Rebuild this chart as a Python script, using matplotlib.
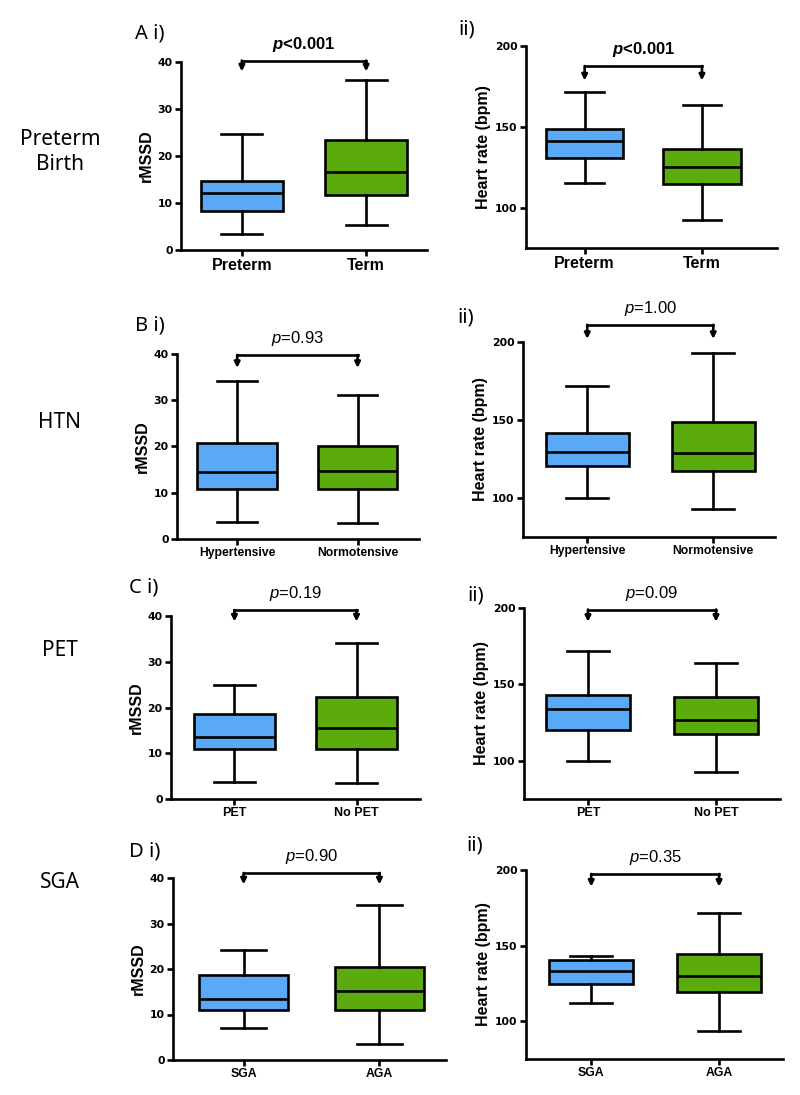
import numpy as np
import matplotlib
matplotlib.use("Agg")
import matplotlib.pyplot as plt

plt.rcParams.update({"font.family": ["Liberation Sans", "DejaVu Sans"],
                     "mathtext.fontset": "custom",
                     "mathtext.it": "Liberation Sans:italic",
                     "mathtext.bf": "Liberation Sans:italic:bold",
                     "axes.linewidth": 1.9})

# ---- data: (whislo, q1, median, q3, whishi) per group -------------------
ROWS = ["Preterm\nBirth", "HTN", "PET", "SGA"]
PANELS = [("A i)", "ii)"), ("B i)", "ii)"), ("C i)", "ii)"), ("D i)", "ii)")]
CATS_A = ["Preterm", "Term"]
CATS_B = ["Hypertensive", "Normotensive"]
CATS_C = ["PET", "No PET"]
CATS_D = ["SGA", "AGA"]

RMSSD_A = [[3.3, 8.3, 12.2, 14.7, 24.7], [5.3, 11.6, 16.6, 23.3, 36.2]]
HR_A = [[115.5, 131.0, 141.4, 148.7, 171.4], [92.3, 114.9, 125.3, 136.2, 163.6]]
RMSSD_B = [[3.7, 10.8, 14.4, 20.8, 34.2], [3.5, 10.8, 14.7, 20.0, 31.1]]
HR_B = [[100.0, 120.3, 129.8, 141.7, 171.6], [92.7, 117.3, 129.1, 148.7, 192.7]]
RMSSD_C = [[3.7, 10.9, 13.5, 18.5, 24.9], [3.5, 10.9, 15.5, 22.4, 34.2]]
HR_C = [[100.0, 120.3, 134.1, 143.0, 171.6], [92.8, 117.3, 126.4, 141.5, 164.0]]
RMSSD_D = [[7.0, 10.9, 13.4, 18.7, 24.1], [3.5, 10.9, 15.1, 20.5, 34.1]]
HR_D = [[112.0, 124.5, 133.0, 140.5, 143.1], [93.2, 119.5, 130.2, 144.6, 171.6]]

P_RMSSD = ["p<0.001", "p=0.93", "p=0.19", "p=0.90"]
P_HR = ["p<0.001", "p=1.00", "p=0.09", "p=0.35"]
# bracket height / arrow tip (data units)
BR_RMSSD = [(40.3, 38.0), (39.8, 37.0), (41.3, 38.8), (41.1, 38.6)]
BR_HR = [(187.6, 178.7), (211.0, 202.0), (199.0, 191.0), (197.4, 189.0)]

CATS = [CATS_A, CATS_B, CATS_C, CATS_D]
RMSSD = [RMSSD_A, RMSSD_B, RMSSD_C, RMSSD_D]
HR = [HR_A, HR_B, HR_C, HR_D]

# ---- layout (pixels: left, right, top, bottom) ---------------------------
W, H = 800, 1095
RECT_L = [(181, 427, 62, 250), (177, 419, 354, 539), (171, 420, 616, 799), (173, 446, 878, 1060)]
RECT_R = [(526, 777, 46, 248), (523, 775, 342, 537), (524, 780, 608, 799), (526, 783, 870, 1059)]
XLIM_L = [(0.51, 2.49), (0.50, 2.51), (0.48, 2.52), (0.48, 2.49)]
XLIM_R = [(0.50, 2.64), (0.49, 2.49), (0.50, 2.50), (0.49, 2.50)]
XT_SIZE = [11.5, 8.7, 9.0, 8.8]
LAB_L = [(135, 38), (135, 330), (129, 592), (129, 857)]
LAB_R = [(458, 35), (457, 323), (467, 600), (466, 850)]
ROW_Y = [152, 422, 650, 882]

BLUE, GREEN = "#5aa9f7", "#5aab0b"
LW = 1.9

fig = plt.figure(figsize=(W / 100, H / 100), dpi=100)


def add_ax(r):
    l, rr, t, b = r
    return fig.add_axes([l / W, 1 - b / H, (rr - l) / W, (b - t) / H])


def draw(ax, stats, cats, ylim, yticks, ylabel, ptxt, br, xlim, xts):
    bx = [dict(whislo=s[0], q1=s[1], med=s[2], q3=s[3], whishi=s[4], fliers=[])
          for s in stats]
    art = ax.bxp(bx, positions=[1, 2], widths=0.66, patch_artist=True,
                 showfliers=False,
                 boxprops=dict(lw=LW, edgecolor="black"),
                 medianprops=dict(lw=LW, color="black"),
                 whiskerprops=dict(lw=LW, color="black"),
                 capprops=dict(lw=LW, color="black"))
    for p, c in zip(art["boxes"], [BLUE, GREEN]):
        p.set_facecolor(c)
    ax.set_xlim(*xlim)
    ax.set_ylim(*ylim)
    ax.set_yticks(yticks)
    ax.set_xticks([1, 2])
    ax.set_xticklabels(cats, fontsize=xts, fontweight="bold")
    for t in ax.get_yticklabels():
        t.set_fontfamily("DejaVu Sans")
        t.set_fontweight("bold")
        t.set_fontsize(7.8)
    ax.tick_params(axis="both", direction="out", length=4, width=LW, pad=2)
    ax.spines[["top", "right"]].set_visible(False)
    ax.set_ylabel(ylabel, fontsize=11.5, fontweight="bold", labelpad=3)
    # significance bracket
    ytop, ytip = br
    ax.plot([1, 2], [ytop, ytop], color="black", lw=LW, clip_on=False,
            solid_capstyle="projecting")
    for x in (1, 2):
        ax.annotate("", xy=(x, ytip), xytext=(x, ytop), annotation_clip=False,
                    arrowprops=dict(arrowstyle="-|>", lw=LW, color="black",
                                    mutation_scale=8, shrinkA=0, shrinkB=0))
    bold = "<" in ptxt
    s = (r"$\mathbf{p}$" if bold else r"$\mathit{p}$") + ptxt[1:]
    ax.annotate(s, xy=(1.5, ytop), xytext=(0, 5), textcoords="offset points",
                ha="center", va="bottom", fontsize=12,
                fontweight="bold" if bold else "normal", annotation_clip=False)


for i in range(4):
    axl = add_ax(RECT_L[i])
    draw(axl, RMSSD[i], CATS[i], (0, 40), [0, 10, 20, 30, 40], "rMSSD",
         P_RMSSD[i], BR_RMSSD[i], XLIM_L[i], XT_SIZE[i])
    axr = add_ax(RECT_R[i])
    draw(axr, HR[i], CATS[i], (75, 200), [100, 150, 200], "Heart rate (bpm)",
         P_HR[i], BR_HR[i], XLIM_R[i], XT_SIZE[i])
    for (x, y), lab in zip([LAB_L[i], LAB_R[i]], PANELS[i]):
        fig.text(x / W, 1 - y / H, lab, fontsize=14.5, family="Noto Sans",
                 va="baseline", ha="left")
    fig.text(60 / W, 1 - ROW_Y[i] / H, ROWS[i], fontsize=15, family="Noto Sans",
             ha="center", va="center", multialignment="center", linespacing=1.2)

fig.savefig("out.png", dpi=100)
